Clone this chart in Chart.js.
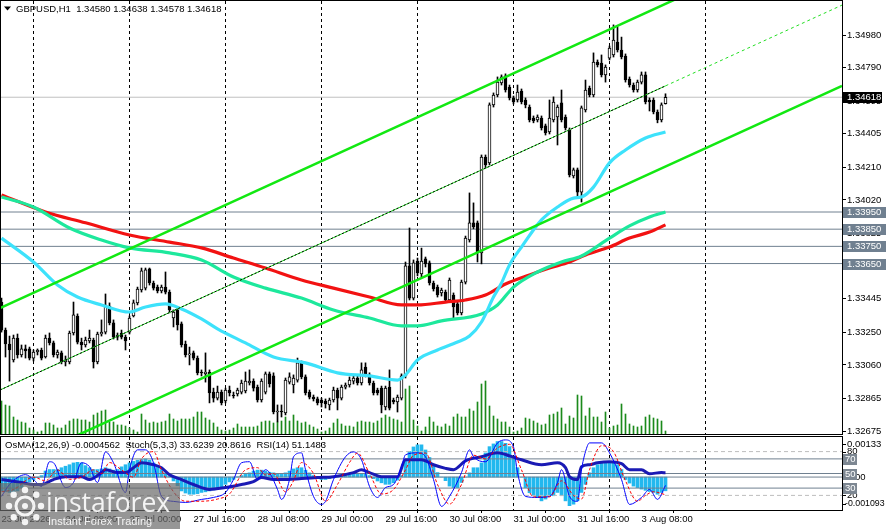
<!DOCTYPE html>
<html>
<head>
<meta charset="utf-8">
<script src="https://cdn.jsdelivr.net/npm/chart.js@4.4.1/dist/chart.umd.min.js"></script>
<style>
  html, body { margin: 0; padding: 0; background: #fff; }
  #wrap { position: relative; width: 886px; height: 529px; overflow: hidden; background: #fff; }
  #wrap canvas { position: absolute; left: 0; }
  #priceChart { top: 0; }
  #oscChart { top: 436px; }
</style>
</head>
<body>
<div id="wrap">
  <canvas id="priceChart" width="886" height="436"></canvas>
  <canvas id="oscChart" width="886" height="93"></canvas>
</div>
<script>
/// === DATA === ///
const symbol = "GBPUSD";
const timeframe = "H1";

// hourly candles, 23 Jul 16:00 -> 3 Aug 14:00
const opens = [
  1.33426,1.33263,1.33182,1.33089,1.33216,1.33118,1.33153,1.33153,1.33100,1.33135,
  1.33147,1.33106,1.33216,1.33188,1.33118,1.33130,1.33077,1.33077,1.33246,1.33345,
  1.33193,1.33176,1.33199,1.33205,1.33077,1.33240,1.33251,1.33403,1.33305,1.33222,
  1.33246,1.33222,1.33251,1.33345,1.33421,1.33496,1.33507,1.33619,1.33537,1.33513,
  1.33490,1.33513,1.33484,1.33333,1.33380,1.33299,1.33182,1.33118,1.33130,1.33100,
  1.33019,1.33008,1.33019,1.32902,1.32867,1.32902,1.32850,1.32914,1.32885,1.32891,
  1.32902,1.32908,1.32955,1.32966,1.32931,1.32856,1.32902,1.33008,1.32996,1.32786,
  1.32792,1.32781,1.32960,1.32943,1.32972,1.33072,1.32990,1.32902,1.32873,1.32862,
  1.32856,1.32850,1.32827,1.32856,1.32914,1.32867,1.32931,1.32943,1.32966,1.32984,
  1.32955,1.33048,1.33002,1.32955,1.32914,1.32925,1.32815,1.32931,1.32856,1.32844,
  1.32867,1.32996,1.33636,1.33449,1.33665,1.33590,1.33677,1.33654,1.33537,1.33513,
  1.33479,1.33484,1.33438,1.33467,1.33415,1.33363,1.33542,1.33787,1.33887,1.33887,
  1.33712,1.34270,1.34236,1.34573,1.34631,1.34701,1.34742,1.34677,1.34614,1.34602,
  1.34654,1.34602,1.34561,1.34497,1.34486,1.34497,1.34451,1.34416,1.34486,1.34503,
  1.34585,1.34503,1.34427,1.34160,1.34195,1.34066,1.34544,1.34671,1.34631,1.34823,
  1.34817,1.34748,1.34846,1.34864,1.34939,1.34893,1.34858,1.34724,1.34689,1.34660,
  1.34706,1.34748,1.34602,1.34602,1.34532,1.34486,1.34580
];
const highs = [
  1.33449,1.33275,1.33228,1.33234,1.33240,1.33176,1.33176,1.33164,1.33147,1.33153,
  1.33158,1.33234,1.33246,1.33199,1.33147,1.33141,1.33112,1.33257,1.33426,1.33357,
  1.33216,1.33222,1.33263,1.33216,1.33251,1.33322,1.33473,1.33421,1.33322,1.33246,
  1.33263,1.33234,1.33345,1.33438,1.33513,1.33624,1.33624,1.33624,1.33548,1.33525,
  1.33525,1.33601,1.33496,1.33380,1.33391,1.33310,1.33199,1.33164,1.33141,1.33112,
  1.33031,1.33130,1.33031,1.32925,1.32937,1.32914,1.32925,1.32937,1.32902,1.32925,
  1.32972,1.33019,1.33031,1.32979,1.32943,1.32979,1.33019,1.33019,1.33014,1.32827,
  1.32827,1.32984,1.33014,1.33002,1.33100,1.33083,1.33002,1.32914,1.32885,1.32873,
  1.32867,1.32862,1.32867,1.32931,1.32925,1.32943,1.32955,1.32990,1.32996,1.32996,
  1.33072,1.33072,1.33014,1.32966,1.32925,1.32937,1.32937,1.33031,1.32867,1.32885,
  1.33008,1.33659,1.33857,1.33671,1.33682,1.33740,1.33688,1.33665,1.33548,1.33525,
  1.33507,1.33496,1.33566,1.33479,1.33426,1.33554,1.33810,1.34061,1.34003,1.33898,
  1.34282,1.34282,1.34585,1.34643,1.34736,1.34748,1.34754,1.34689,1.34625,1.34689,
  1.34666,1.34614,1.34573,1.34509,1.34515,1.34509,1.34462,1.34602,1.34620,1.34573,
  1.34660,1.34515,1.34439,1.34206,1.34206,1.34567,1.34718,1.34683,1.34876,1.34835,
  1.34864,1.34806,1.34916,1.35039,1.35027,1.34968,1.34870,1.34736,1.34701,1.34718,
  1.34765,1.34765,1.34614,1.34614,1.34544,1.34585,1.34638
];
const lows = [
  1.33251,1.33106,1.32966,1.33077,1.33100,1.33106,1.33100,1.33089,1.33083,1.33118,
  1.33089,1.33100,1.33176,1.33106,1.33100,1.33066,1.33054,1.33066,1.33234,1.33182,
  1.33147,1.33164,1.33188,1.33042,1.33066,1.33228,1.33240,1.33293,1.33211,1.33205,
  1.33211,1.33147,1.33240,1.33339,1.33409,1.33484,1.33496,1.33525,1.33496,1.33479,
  1.33479,1.33473,1.33363,1.33281,1.33263,1.33164,1.33106,1.33060,1.33089,1.33002,
  1.32996,1.32960,1.32839,1.32844,1.32856,1.32827,1.32839,1.32879,1.32867,1.32879,
  1.32891,1.32897,1.32943,1.32908,1.32844,1.32844,1.32891,1.32931,1.32775,1.32728,
  1.32757,1.32769,1.32949,1.32897,1.32960,1.32979,1.32885,1.32862,1.32850,1.32827,
  1.32815,1.32809,1.32798,1.32844,1.32798,1.32856,1.32920,1.32931,1.32949,1.32943,
  1.32943,1.32990,1.32943,1.32885,1.32885,1.32781,1.32798,1.32798,1.32833,1.32786,
  1.32856,1.32984,1.33438,1.33438,1.33578,1.33572,1.33630,1.33525,1.33490,1.33455,
  1.33461,1.33426,1.33426,1.33333,1.33351,1.33351,1.33531,1.33775,1.33852,1.33659,
  1.33648,1.34206,1.34224,1.34561,1.34620,1.34689,1.34648,1.34602,1.34579,1.34590,
  1.34579,1.34556,1.34474,1.34469,1.34474,1.34427,1.34398,1.34404,1.34474,1.34340,
  1.34474,1.34427,1.34154,1.34148,1.34037,1.34008,1.34532,1.34620,1.34620,1.34794,
  1.34736,1.34706,1.34835,1.34852,1.34881,1.34841,1.34706,1.34677,1.34648,1.34648,
  1.34695,1.34579,1.34538,1.34521,1.34469,1.34474,1.34578
];
const closes = [
  1.33263,1.33182,1.33147,1.33216,1.33118,1.33153,1.33141,1.33100,1.33135,1.33147,
  1.33100,1.33216,1.33188,1.33118,1.33135,1.33077,1.33089,1.33246,1.33351,1.33193,
  1.33176,1.33205,1.33216,1.33077,1.33240,1.33251,1.33409,1.33305,1.33222,1.33234,
  1.33222,1.33199,1.33333,1.33421,1.33502,1.33607,1.33613,1.33537,1.33507,1.33490,
  1.33513,1.33484,1.33380,1.33368,1.33293,1.33176,1.33118,1.33124,1.33100,1.33014,
  1.33014,1.33019,1.32897,1.32867,1.32902,1.32839,1.32914,1.32897,1.32879,1.32914,
  1.32955,1.32966,1.32966,1.32925,1.32856,1.32966,1.33008,1.32949,1.32786,1.32792,
  1.32786,1.32972,1.32990,1.32984,1.33072,1.32990,1.32897,1.32873,1.32862,1.32839,
  1.32839,1.32833,1.32856,1.32914,1.32867,1.32931,1.32943,1.32972,1.32984,1.32955,
  1.33031,1.33002,1.32955,1.32897,1.32897,1.32827,1.32925,1.32809,1.32844,1.32873,
  1.32996,1.33636,1.33449,1.33654,1.33596,1.33665,1.33648,1.33537,1.33502,1.33467,
  1.33496,1.33438,1.33554,1.33397,1.33363,1.33542,1.33798,1.33887,1.33863,1.33712,
  1.34270,1.34224,1.34573,1.34631,1.34706,1.34736,1.34660,1.34614,1.34590,1.34648,
  1.34590,1.34573,1.34486,1.34480,1.34503,1.34439,1.34410,1.34497,1.34590,1.34561,
  1.34486,1.34439,1.34166,1.34195,1.34066,1.34556,1.34660,1.34631,1.34823,1.34806,
  1.34748,1.34794,1.34904,1.34951,1.34893,1.34852,1.34718,1.34689,1.34660,1.34706,
  1.34748,1.34590,1.34590,1.34532,1.34486,1.34573,1.34618
];
const volumes = [
  3300,2900,2800,1700,1400,1200,1100,600,400,200,
  300,1100,1100,900,600,600,900,1300,1500,1500,
  1400,1400,1200,1900,2100,2300,2400,1200,1200,900,
  900,800,600,400,200,2000,1400,1100,1200,1100,
  1200,1300,2000,1500,1300,1500,1500,1500,1700,2200,
  2200,1600,1400,1100,700,400,300,400,600,1000,
  700,700,700,700,800,1200,1300,1300,1100,1200,
  1300,1700,1300,1900,1300,1100,1200,900,700,500,
  200,300,600,1100,1500,1000,800,800,700,1200,
  1300,1200,1200,1100,1300,1600,1900,1700,1500,1400,
  1200,4500,4800,1400,800,300,700,1700,1200,800,
  700,1000,800,1700,2000,1700,1700,2500,2300,3200,
  5000,5300,2800,1800,1500,1200,1200,700,200,300,
  600,1600,1500,1300,1100,900,1000,1900,2000,2200,
  2600,1000,1800,1600,3900,3800,1800,2600,1700,1700,
  1200,2200,600,800,900,3000,2000,1000,800,700,
  800,1700,1900,1600,1500,1300,300
];

// moving averages: [candle index, price]
const maFast = [
  [0,1.33798],[8,1.33659],[14,1.33525],[19,1.33455],[25,1.33409],[32,1.33368],[36,1.33397],
  [41,1.33415],[45,1.33386],[50,1.33328],[54,1.33270],[61,1.33188],[68,1.33106],[76,1.33072],
  [84,1.33014],[92,1.32996],[99,1.32972],[101,1.33002],[104,1.33089],[109,1.33147],[114,1.33193],
  [117,1.33228],[120,1.33310],[123,1.33455],[125,1.33537],[127,1.33642],[130,1.33746],[135,1.33904],
  [139,1.33979],[143,1.34031],[145,1.34037],[148,1.34095],[152,1.34236],[156,1.34311],[161,1.34381],
  [166,1.34416]
];
const maMid = [
  [0,1.34037],[8,1.33979],[17,1.33857],[25,1.33787],[32,1.33741],[42,1.33712],[50,1.33671],
  [58,1.33572],[66,1.33507],[75,1.33449],[83,1.33380],[92,1.33333],[100,1.33287],[104,1.33287],
  [110,1.33316],[120,1.33357],[124,1.33409],[128,1.33513],[134,1.33601],[140,1.33659],[145,1.33694],
  [152,1.33798],[157,1.33869],[162,1.33921],[166,1.33950]
];
const maSlow = [
  [0,1.34049],[11,1.33950],[21,1.33887],[32,1.33816],[42,1.33775],[50,1.33741],[58,1.33682],
  [66,1.33624],[75,1.33554],[83,1.33507],[92,1.33455],[100,1.33409],[104,1.33409],[111,1.33426],
  [116,1.33438],[121,1.33467],[126,1.33531],[132,1.33584],[137,1.33624],[142,1.33659],[146,1.33700],
  [152,1.33746],[157,1.33798],[162,1.33833],[166,1.33875]
];

// trend channel anchors: [candle index, price]
const channelUpper = [[-0.375,1.33391],[210.125,1.35631]];
const channelMid = [[-0.375,1.32914],[166,1.34684]];
const channelMidRay = [[166,1.34684],[210.125,1.35154]];
const channelLower = [[-0.375,1.32445],[210.125,1.34684]];

const levels = [1.33950, 1.33850, 1.33750, 1.33650];
const priceTicks = [1.34980,1.34790,1.34595,1.34405,1.34210,1.34020,1.33825,1.33635,1.33445,1.33250,1.33060,1.32865,1.32675];

// oscillators
const osma = [
  -0.00046,-0.00049,-0.00051,-0.00051,-0.00046,-0.00035,-0.00024,-0.00016,-0.00008,-0.00002,
  0.00005,0.00020,0.00025,0.00025,0.00025,0.00031,0.00036,0.00041,0.00047,0.00049,
  0.00047,0.00038,0.00031,0.00025,0.00025,0.00027,0.00031,0.00027,0.00023,0.00025,
  0.00034,0.00041,0.00047,0.00052,0.00056,0.00058,0.00060,0.00056,0.00047,0.00034,
  0.00025,0.00014,0.00003,-0.00013,-0.00029,-0.00046,-0.00053,-0.00057,-0.00057,-0.00055,
  -0.00051,-0.00049,-0.00046,-0.00043,-0.00038,-0.00032,-0.00024,-0.00016,-0.00008,0.00001,
  0.00005,0.00009,0.00014,0.00020,0.00023,0.00023,0.00020,0.00016,0.00014,0.00009,
  0.00009,0.00014,0.00020,0.00027,0.00031,0.00031,0.00023,0.00014,0.00005,-0.00002,
  -0.00008,-0.00008,-0.00005,-0.00002,0.00000,0.00003,0.00005,0.00008,0.00009,0.00009,
  0.00012,0.00012,0.00005,-0.00005,-0.00013,-0.00019,-0.00024,-0.00024,-0.00019,-0.00010,
  0.00005,0.00055,0.00085,0.00100,0.00107,0.00107,0.00090,0.00065,0.00040,0.00015,
  0.00000,-0.00012,-0.00030,-0.00035,-0.00035,-0.00018,0.00000,0.00014,0.00031,0.00031,
  0.00047,0.00080,0.00101,0.00110,0.00118,0.00118,0.00112,0.00101,0.00069,0.00031,
  0.00000,-0.00035,-0.00052,-0.00062,-0.00068,-0.00079,-0.00073,-0.00062,-0.00062,-0.00051,
  -0.00062,-0.00079,-0.00095,-0.00090,-0.00079,-0.00051,-0.00024,0.00014,0.00031,0.00041,
  0.00047,0.00047,0.00047,0.00047,0.00041,0.00025,-0.00008,-0.00020,-0.00030,-0.00035,
  -0.00040,-0.00044,-0.00048,-0.00051,-0.00057,-0.00051,-0.0004562
];
const stochMain = [
  [0,18.6],[2,34.9],[6,48.4],[8,41.7],[10,32.2],[12,66.1],[13,64.7],[16,30.8],[18,37.6],[20,64.7],
  [22,59.3],[24,37.6],[26,79.6],[28,64.7],[31,24],[32,55.2],[34,82.4],[36,82.4],[38,64.7],[40,18.6],
  [43,11.8],[46,10.4],[50,14.5],[53,17.2],[56,24],[58,41.7],[60,64.7],[62,66.1],[64,41.7],[66,55.2],
  [67,51.2],[69,28.1],[70,14.5],[72,41.7],[73,72.9],[75,78.3],[76,55.2],[78,18.6],[80,7.7],[81,11.8],
  [83,41.7],[86,72.9],[88,79.6],[90,68.8],[92,32.2],[94,17.2],[96,30.8],[98,34.9],[100,59.3],[101,75.6],
  [104,78.3],[106,72.9],[108,41.7],[110,5],[112,18.6],[115,51.2],[117,82.4],[118,72.9],[121,66.1],[124,91.9],
  [126,96],[128,86.4],[129,51.2],[131,18.6],[134,17.2],[137,18.6],[139,37.6],[140,55.2],[142,18.6],[144,11.8],
  [145,55],[146,80],[147,91.9],[150,91.9],[152,78.3],[155,41.7],[157,7.7],[160,17.2],[162,28.1],[164,14.5],
  [166,33.6239]
];
const stochSignal = [
  [0,25],[3,28],[8,45],[11,40],[14,55],[17,42],[20,45],[23,55],[25,50],[27,65],[30,55],[33,45],
  [35,70],[38,80],[40,55],[43,25],[46,12],[50,12],[54,15],[57,22],[61,55],[64,58],[66,48],[68,50],
  [71,25],[73,40],[75,65],[78,50],[81,12],[84,35],[87,65],[89,78],[92,50],[95,22],[98,28],[101,55],
  [103,75],[106,78],[109,35],[112,8],[115,35],[118,75],[121,70],[124,85],[127,90],[130,55],[133,18],
  [137,18],[140,40],[143,20],[145,15],[147,55],[150,88],[153,80],[156,40],[159,12],[161,20],[163,25],
  [166,20.8616]
];
const rsi = [
  [0,41.7],[5,37.6],[8,34.9],[10,34.9],[13,41.7],[16,45.7],[20,45.7],[22,41.7],[25,51.2],[26,55.2],
  [29,51.2],[31,51.2],[33,57.9],[35,64.7],[38,62],[40,57.9],[42,48.4],[45,41.7],[48,34.9],[52,28.1],
  [56,30.8],[60,34.9],[63,38.9],[65,44.4],[68,41.7],[70,41.7],[75,43],[79,44.4],[83,45.7],[88,51.2],
  [90,55.2],[92,51.2],[95,45.7],[99,45.7],[101,68.8],[103,68.8],[105,68.8],[108,62],[111,57],[113,55.2],
  [116,67.4],[120,72.9],[124,78.3],[127,74.2],[130,68.8],[135,62],[139,64.7],[141,58],[142,45.7],[144,41.7],
  [145,59.3],[147,62],[149,64.7],[152,66.1],[155,63.4],[157,55.2],[160,55.2],[162,49.8],[165,51.2],
  [166,51.1483]
];
const stochDashedLevels = [80, 20];
const stochSolidLevels = [70, 50, 30];
const osmaMax = 0.00133;
const osmaMin = -0.001093;

// time axis
const timeTickIdx = [0,16,32,48,64,80,96,112,128,144,160];
const timeTickText = ['23 Jul 2026','24 Jul 08:00','27 Jul 00:00','27 Jul 16:00','28 Jul 08:00',
  '29 Jul 00:00','29 Jul 16:00','30 Jul 08:00','31 Jul 00:00','31 Jul 16:00','3 Aug 08:00'];
const dayStartIdx = [8,32,56,80,104,128,152,176];

/// === SETUP === ///
const FONT = '"Liberation Sans", Arial, sans-serif';
Chart.defaults.font.family = FONT;
Chart.defaults.font.size = 9.5;
Chart.defaults.color = '#000';
Chart.defaults.animation = false;
Chart.defaults.plugins.legend.display = false;
Chart.defaults.plugins.tooltip.enabled = false;

const xMin = -0.375, xMax = 210.125;
const last = closes.length - 1;
const idx = closes.map((_, i) => i);
const toPoints = (pairs) => pairs.map(([x, y]) => ({ x, y }));
const flat = (v) => [{ x: xMin, y: v }, { x: xMax, y: v }];

const frameAndGrid = {
  id: 'frameAndGrid',
  beforeDatasetsDraw(chart) {
    const { ctx, chartArea: a, scales: { x } } = chart;
    ctx.save();
    ctx.strokeStyle = '#000';
    ctx.lineWidth = 1;
    ctx.setLineDash([3, 3]);
    dayStartIdx.forEach((i) => {
      const px = Math.floor(x.getPixelForValue(i)) + 0.5;
      if (px < a.left || px > a.right) return;
      ctx.beginPath();
      ctx.moveTo(px, a.top);
      ctx.lineTo(px, a.bottom);
      ctx.stroke();
    });
    ctx.restore();
  },
  afterDraw(chart) {
    const { ctx, chartArea: a } = chart;
    ctx.save();
    ctx.strokeStyle = '#000';
    ctx.lineWidth = 1;
    ctx.strokeRect(a.left + 0.5, a.top - 0.5, a.right - a.left, a.bottom - a.top + 1);
    ctx.restore();
  }
};

function tag(ctx, py, text, bg, right) {
  const top = Math.round(py) - 5;
  ctx.fillStyle = bg;
  ctx.fillRect(843, top, right - 843, 11);
  ctx.fillStyle = '#fff';
  ctx.fillText(text, 847, top + 5.5);
}

const priceOverlay = {
  id: 'priceOverlay',
  afterDraw(chart) {
    const { ctx } = chart;
    const y = chart.scales.y;
    ctx.save();
    ctx.font = '9.5px ' + FONT;
    ctx.textBaseline = 'middle';
    ctx.fillStyle = '#000';
    ctx.beginPath();
    ctx.moveTo(4, 6.5); ctx.lineTo(11, 6.5); ctx.lineTo(7.5, 10.5); ctx.closePath();
    ctx.fill();
    ctx.fillText(`${symbol},${timeframe}  ${opens[last].toFixed(5)} ${highs[last].toFixed(5)} ${lows[last].toFixed(5)} ${closes[last].toFixed(5)}`, 16, 9);
    levels.forEach((l) => tag(ctx, y.getPixelForValue(l), l.toFixed(5), '#708090', 886));
    tag(ctx, y.getPixelForValue(closes[last]), closes[last].toFixed(5), '#000', 882);
    ctx.restore();
  }
};

const oscOverlay = {
  id: 'oscOverlay',
  afterDraw(chart) {
    const { ctx, chartArea: a } = chart;
    const ys = chart.scales.ys, yo = chart.scales.yo;
    ctx.save();
    ctx.font = '9.5px ' + FONT;
    ctx.textBaseline = 'middle';
    ctx.fillStyle = '#000';
    const sm = stochMain[stochMain.length - 1][1];
    const ss = stochSignal[stochSignal.length - 1][1];
    const rv = rsi[rsi.length - 1][1];
    ctx.fillText(`OsMA(12,26,9) ${osma[last].toFixed(7)}  Stoch(5,3,3) ${sm.toFixed(4)} ${ss.toFixed(4)}  RSI(14) ${rv.toFixed(4)}`, 5, 9);

    // right scale
    const lx = 847;
    const tick = (py) => {
      ctx.fillRect(843, Math.round(py), 3, 1);
    };
    ctx.fillText(osmaMax.toFixed(5), lx, a.top + 7); tick(a.top + 7);
    stochDashedLevels.forEach((v) => { ctx.fillText(String(v), lx, ys.getPixelForValue(v)); tick(ys.getPixelForValue(v)); });
    ctx.fillText('0.00', lx, yo.getPixelForValue(0));
    ctx.font = '8.8px ' + FONT;
    ctx.fillText(osmaMin.toFixed(6), 845, a.bottom - 6); tick(a.bottom - 6);
    ctx.font = '9.5px ' + FONT;
    stochSolidLevels.forEach((v) => {
      const top = Math.round(ys.getPixelForValue(v)) - 5;
      ctx.fillStyle = '#7d8792';
      ctx.fillRect(843, top, 14, 11);
      ctx.fillStyle = '#fff';
      ctx.fillText(String(v), 845, top + 5.5);
      ctx.fillStyle = '#000';
    });

    // watermark
    const wy = 47;
    ctx.fillStyle = 'rgba(105,105,105,0.7)';
    ctx.fillRect(0, wy, 180, 46);
    ctx.strokeStyle = 'rgba(255,255,255,0.9)';
    ctx.fillStyle = 'rgba(255,255,255,0.9)';
    ctx.lineWidth = 3;
    ctx.beginPath(); ctx.arc(25, wy + 23, 9, 0, Math.PI * 2); ctx.stroke();
    for (let k = 0; k < 8; k++) {
      const ang = k * Math.PI / 4;
      ctx.beginPath();
      ctx.arc(25 + Math.cos(ang) * 16, wy + 23 + Math.sin(ang) * 16, 3.2, 0, Math.PI * 2);
      ctx.fill();
    }
    ctx.beginPath(); ctx.arc(25, wy + 23, 3, 0, Math.PI * 2); ctx.fill();
    ctx.textBaseline = 'alphabetic';
    ctx.font = '26.5px "Open Sans", sans-serif';
    ctx.fillText('instaforex', 46, wy + 29);
    ctx.font = '11px ' + FONT;
    ctx.fillText('Instant Forex Trading', 48, wy + 42);
    ctx.restore();
  }
};

/// === CHARTS === ///
new Chart(document.getElementById('priceChart'), {
  type: 'bar',
  data: {
    datasets: [
      { label: 'Volume', type: 'bar', yAxisID: 'yv', data: idx.map((i) => ({ x: i, y: volumes[i] })),
        backgroundColor: '#1b8a1b', barThickness: 1, grouped: false, order: 40 },
      ...levels.map((l) => ({ type: 'line', data: flat(l), borderColor: '#708090', borderWidth: 1, pointRadius: 0, order: 39 })),
      { type: 'line', data: flat(closes[last]), borderColor: '#c0c0c0', borderWidth: 1, pointRadius: 0, order: 39 },
      { label: 'Wicks', type: 'bar', data: idx.map((i) => ({ x: i, y: [lows[i], highs[i]] })),
        backgroundColor: '#000', barThickness: 1, grouped: false, order: 30 },
      { label: 'Bodies', type: 'bar', data: idx.map((i) => ({ x: i, y: [opens[i], closes[i]] })),
        backgroundColor: (c) => (closes[c.dataIndex] >= opens[c.dataIndex] ? '#fff' : '#000'),
        borderColor: '#000', borderWidth: 1, borderSkipped: false, barThickness: 3, grouped: false, order: 29 },
      { type: 'line', label: 'MA slow', data: toPoints(maSlow), borderColor: '#f21212', borderWidth: 3.2,
        pointRadius: 0, cubicInterpolationMode: 'monotone', order: 20 },
      { type: 'line', label: 'MA mid', data: toPoints(maMid), borderColor: '#1de89c', borderWidth: 3.2,
        pointRadius: 0, cubicInterpolationMode: 'monotone', order: 19 },
      { type: 'line', label: 'MA fast', data: toPoints(maFast), borderColor: '#3de2fb', borderWidth: 3.2,
        pointRadius: 0, cubicInterpolationMode: 'monotone', order: 18 },
      { type: 'line', data: toPoints(channelUpper), borderColor: '#12e812', borderWidth: 2.5, pointRadius: 0, order: 10 },
      { type: 'line', data: toPoints(channelLower), borderColor: '#12e812', borderWidth: 2.5, pointRadius: 0, order: 10 },
      { type: 'line', data: toPoints(channelMid), borderColor: '#22dd22', borderWidth: 1, pointRadius: 0, order: 9 },
      { type: 'line', data: toPoints(channelMid), borderColor: '#000', borderWidth: 1, borderDash: [2, 2], pointRadius: 0, order: 8 },
      { type: 'line', data: toPoints(channelMidRay), borderColor: '#22dd22', borderWidth: 1, borderDash: [3, 3], pointRadius: 0, order: 8 }
    ]
  },
  options: {
    responsive: false,
    devicePixelRatio: 1,
    events: [],
    layout: { autoPadding: false, padding: { left: 0, right: 0, top: 1, bottom: 2 } },
    scales: {
      x: { type: 'linear', display: false, min: xMin, max: xMax, offset: false },
      y: {
        position: 'right', min: 1.32658, max: 1.35178, beginAtZero: false,
        afterBuildTicks: (s) => { s.ticks = priceTicks.map((v) => ({ value: v })); },
        afterFit: (s) => { s.width = 44; s.paddingTop = 0; s.paddingBottom = 0; },
        ticks: { callback: (v) => Number(v).toFixed(5), color: '#000', padding: 1, autoSkip: false },
        grid: { drawOnChartArea: false, drawTicks: true, tickLength: 4, color: '#000' },
        border: { display: true, color: '#000' }
      },
      yv: { display: false, min: 0, max: 43300 }
    }
  },
  plugins: [frameAndGrid, priceOverlay]
});

new Chart(document.getElementById('oscChart'), {
  type: 'bar',
  data: {
    datasets: [
      { label: 'OsMA', type: 'bar', yAxisID: 'yo', data: idx.map((i) => ({ x: i, y: osma[i] })),
        backgroundColor: '#22b8ee', barThickness: 3, grouped: false, order: 40 },
      ...stochDashedLevels.map((v) => ({ type: 'line', yAxisID: 'ys', data: flat(v), borderColor: '#bdbdbd',
        borderWidth: 1, borderDash: [4, 3], pointRadius: 0, order: 39 })),
      ...stochSolidLevels.map((v) => ({ type: 'line', yAxisID: 'ys', data: flat(v), borderColor: '#708090',
        borderWidth: 1, pointRadius: 0, order: 39 })),
      { type: 'line', yAxisID: 'yo', data: flat(0), borderColor: '#708090', borderWidth: 1, pointRadius: 0, order: 39 },
      { type: 'line', yAxisID: 'ys', label: 'RSI', data: toPoints(rsi), borderColor: '#1a1ab4', borderWidth: 3,
        pointRadius: 0, cubicInterpolationMode: 'monotone', order: 12 },
      { type: 'line', yAxisID: 'ys', label: 'Stoch', data: toPoints(stochMain), borderColor: '#0000ff', borderWidth: 1,
        pointRadius: 0, cubicInterpolationMode: 'monotone', order: 11 },
      { type: 'line', yAxisID: 'ys', label: 'Signal', data: toPoints(stochSignal), borderColor: '#ff0000', borderWidth: 1,
        borderDash: [3, 2], pointRadius: 0, cubicInterpolationMode: 'monotone', order: 10 }
    ]
  },
  options: {
    responsive: false,
    devicePixelRatio: 1,
    events: [],
    layout: { autoPadding: false, padding: { left: 0, right: 44, top: 1, bottom: 0 } },
    scales: {
      x: {
        type: 'linear', min: xMin, max: xMax, offset: false, position: 'bottom',
        afterBuildTicks: (s) => { s.ticks = timeTickIdx.map((v) => ({ value: v })); },
        afterFit: (s) => { s.height = 19; },
        ticks: {
          callback: (v) => timeTickText[timeTickIdx.indexOf(v)],
          align: 'start', maxRotation: 0, minRotation: 0, autoSkip: false, color: '#000', padding: 1
        },
        grid: { drawOnChartArea: false, drawTicks: true, tickLength: 3, color: '#000' },
        border: { display: false }
      },
      ys: { display: false, min: 0, max: 100 },
      yo: { display: false, min: osmaMin, max: osmaMax, beginAtZero: false }
    }
  },
  plugins: [frameAndGrid, oscOverlay]
});
</script>
</body>
</html>
